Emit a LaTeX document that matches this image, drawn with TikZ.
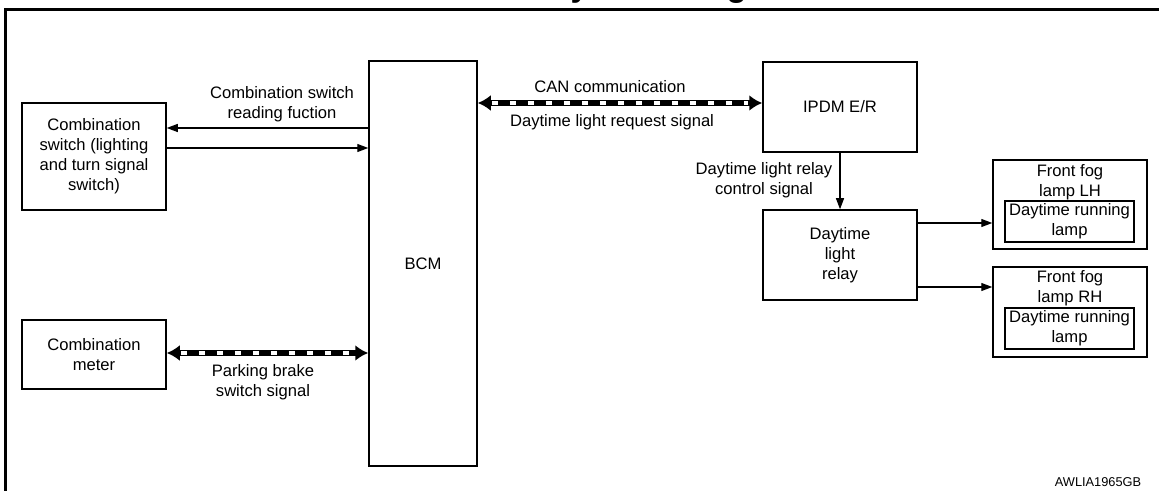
\documentclass[tikz,border=0pt]{standalone}
\usepackage{fontspec}
\setmainfont{Liberation Sans}
\usetikzlibrary{arrows.meta}

\begin{document}
\begin{tikzpicture}[
  x=0.5pt,y=-0.5pt,
  unit/.style={draw,line width=0.75pt,align=center,inner sep=0pt},
  lbl/.style={align=center,inner sep=0pt},
  sig/.style={-{Triangle[length=5.5pt,width=4pt]},line width=0.6pt},
  canbus/.style={{Latex[length=6.5pt,width=8pt]}-{Latex[length=6.5pt,width=8pt]},line width=3.4pt,
    postaction={draw=white,-,line width=2pt,dash pattern=on 3pt off 6pt,shorten <=7pt,shorten >=7pt}},
  every node/.append style={font=\fontsize{8.3}{10}\selectfont}
]
  \useasboundingbox (0,0) rectangle (1159,491);
  \node[font=\bfseries\fontsize{16.5}{20}\selectfont,anchor=base,inner sep=0pt] (title) at (678,-3) {System Diagram};
  \draw[line width=1.6pt] (5.5,491) -- (5.5,9.5) -- (1159,9.5);

  \node[unit,minimum width=72pt,minimum height=53.5pt] (cswitch) at (94,156.5) {Combination\\switch (lighting\\and turn signal\\switch)};
  \node[unit,minimum width=72pt,minimum height=34.5pt] (meter) at (94,354.5) {Combination\\meter};
  \node[unit,minimum width=54pt,minimum height=202.5pt] (bcm) at (423,263.5) {BCM};
  \node[unit,minimum width=77pt,minimum height=45pt] (ipdm) at (840,107) {IPDM E/R};
  \node[unit,minimum width=77pt,minimum height=45pt] (relay) at (840,255) {Daytime\\light\\relay};

  \node[unit,minimum width=77pt,minimum height=44.5pt] (foglh) at (1070,204.5) {};
  \node[lbl] (foglhname) at (1070,182) {Front fog\\lamp LH};
  \node[unit,minimum width=64.5pt,minimum height=20.5pt] (foglhdrl) at (1069.5,221.5) {Daytime running\\lamp};
  \node[unit,minimum width=77pt,minimum height=45pt] (fogrh) at (1070,312) {};
  \node[lbl] (fogrhname) at (1070,288.5) {Front fog\\lamp RH};
  \node[unit,minimum width=64.5pt,minimum height=20.5pt] (fogrhdrl) at (1069.5,328.5) {Daytime running\\lamp};

  \draw[sig] (bcm.west |- 0,128) -- (cswitch.east |- 0,128);
  \draw[sig] (cswitch.east |- 0,148) -- (bcm.west |- 0,148);
  \draw[canbus] (meter.east |- 0,353) -- (bcm.west |- 0,353);
  \draw[canbus] (bcm.east |- 0,103) -- (ipdm.west |- 0,103);
  \draw[sig] (ipdm.south) -- (relay.north);
  \draw[sig] (relay.east |- 0,223) -- (foglh.west |- 0,223);
  \draw[sig] (relay.east |- 0,287) -- (fogrh.west |- 0,287);

  \node[lbl] (readlbl) at (282,104) {Combination switch\\reading fuction};
  \node[lbl] (parklbl) at (263,382) {Parking brake\\switch signal};
  \node[lbl] (canlbl) at (610,87) {CAN communication};
  \node[lbl] (reqlbl) at (612,122) {Daytime light request signal};
  \node[lbl] (ctrllbl) at (764,180) {Daytime light relay\\control signal};
  \node[font=\fontsize{6.4}{8}\selectfont] (figid) at (1098,482) {AWLIA1965GB};
\end{tikzpicture}
\end{document}
